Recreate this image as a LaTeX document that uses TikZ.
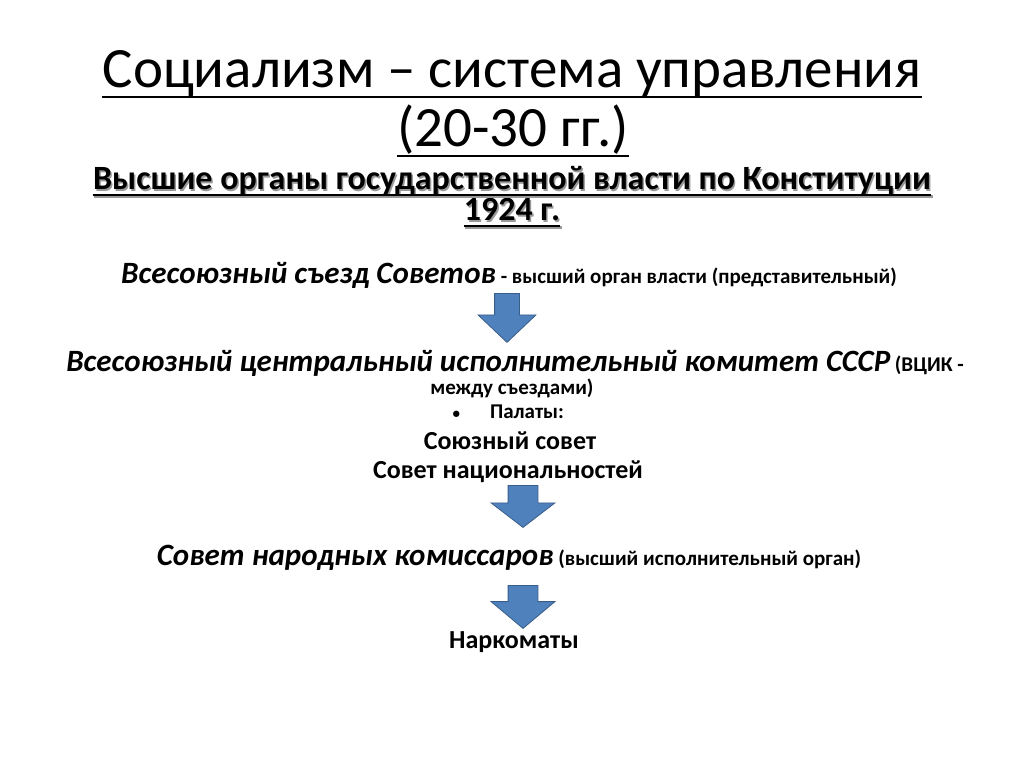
\documentclass[tikz,border=0pt]{standalone}
\usepackage{fontspec}
\setmainfont{Carlito}
\usetikzlibrary{shapes.arrows,calc}
\definecolor{arrowblue}{HTML}{4F81BD}
\definecolor{arrowedge}{HTML}{385D8A}
\newcommand{\bigbi}{\fontsize{31}{36}\selectfont\bfseries\itshape}
\newcommand{\smallb}{\fontsize{21}{25}\selectfont\bfseries}
\newcommand{\midb}{\fontsize{26}{30}\selectfont\bfseries}
\newcommand{\subb}{\fontsize{34}{30}\selectfont\bfseries}
\begin{document}
\begin{tikzpicture}[
        x = 1pt, y = -1pt,
        txt/.style = {inner sep=0pt, anchor=base},
        underline/.style = {line width=2.5pt},
        downarrow/.style = {single arrow, draw=arrowedge, fill=arrowblue, thick,
            rotate=-90, anchor=tail, inner xsep=0pt}
    ]
        \useasboundingbox (0,0) rectangle (1024,767);

        % title
        \node[txt] (title1) at (512,88) {\fontsize{57}{64}\selectfont Социализм – система управления};
        \node[txt] (title2) at (513,147) {\fontsize{57}{64}\selectfont (20-30 гг.)};
        \draw[underline] ($(title1.base west)+(0,9)$) -- ($(title1.base east)+(0,9)$);
        \draw[underline] ($(title2.base west)+(0,9)$) -- ($(title2.base east)+(0,9)$);

        % subtitle with shadow
        \node[txt, text=black!40] (shadow1) at (513.5,191.5) {\subb Высшие органы государственной власти по Конституции};
        \node[txt, text=black!40] (shadow2) at (513.5,222.5) {\subb 1924 г.};
        \node[txt] (sub1) at (512,190) {\subb Высшие органы государственной власти по Конституции};
        \node[txt] (sub2) at (512,221) {\subb 1924 г.};
        \draw[underline, black!40] ($(shadow1.base west)+(0,5)$) -- ($(shadow1.base east)+(0,5)$);
        \draw[underline, black!40] ($(shadow2.base west)+(0,5)$) -- ($(shadow2.base east)+(0,5)$);
        \draw[underline] ($(sub1.base west)+(0,5)$) -- ($(sub1.base east)+(0,5)$);
        \draw[underline] ($(sub2.base west)+(0,5)$) -- ($(sub2.base east)+(0,5)$);

        % levels
        \node[txt, font=\smallb] (congress) at (509,283) {{\bigbi Всесоюзный съезд Советов\/} - высший орган власти (представительный)};
        \node[downarrow, minimum height=49pt, inner ysep=12pt,
            single arrow head extend=16.5pt, single arrow tip angle=93] (arrow1) at (507,293) {};

        \node[txt, font=\smallb] (cec) at (515,371) {{\bigbi Всесоюзный центральный исполнительный комитет СССР\/} (ВЦИК -};
        \node[txt, font=\smallb] (cec2) at (512,394) {между съездами)};
        \node[txt, font=\smallb] (chambers) at (527,418) {\makebox[0pt][r]{\fontsize{15}{15}\selectfont•\hspace{30pt}}Палаты:};
        \node[txt, font=\midb] (union) at (510,449) {Союзный совет};
        \node[txt, font=\midb] (nation) at (508,478) {Совет национальностей};
        \node[downarrow, minimum height=42pt, inner ysep=14.5pt,
            single arrow head extend=17pt, single arrow tip angle=105] (arrow2) at (523,485) {};

        \node[txt, font=\smallb] (snk) at (509,565) {{\bigbi Совет народных комиссаров\/} (высший исполнительный орган)};
        \node[downarrow, minimum height=43pt, inner ysep=14.5pt,
            single arrow head extend=17pt, single arrow tip angle=100] (arrow3) at (523,585) {};

        \node[txt, font=\midb] (narkom) at (514,648) {Наркоматы};
    \end{tikzpicture}
\end{document}
